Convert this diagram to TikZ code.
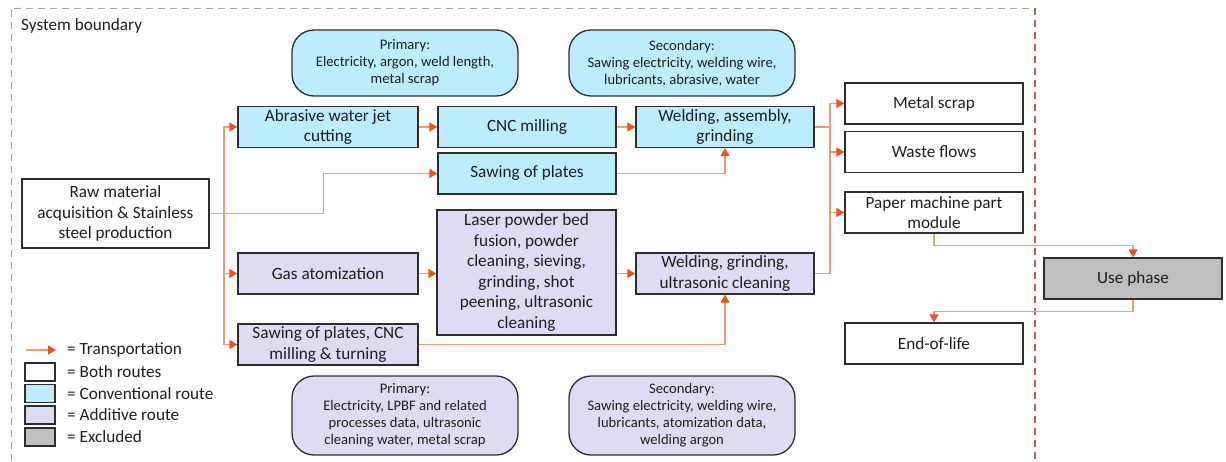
\documentclass[tikz,border=0pt]{standalone}
\usepackage{fontspec}
\setmainfont{Carlito}
\usetikzlibrary{arrows.meta,calc}
\definecolor{conv}{RGB}{189,236,253}
\definecolor{addv}{RGB}{222,220,244}
\definecolor{excl}{RGB}{191,191,191}
\definecolor{bordc}{RGB}{45,45,45}
\definecolor{linec}{RGB}{248,150,120}
\definecolor{tipc}{RGB}{240,80,30}
\definecolor{bndc}{RGB}{165,105,95}
\definecolor{txtc}{RGB}{30,30,30}
\tikzset{
  box/.style={draw=bordc,line width=1.3pt,inner sep=1pt,align=center,text=txtc,
    font=\fontsize{17.2}{20.5}\selectfont},
  cbox/.style={box,fill=conv},
  abox/.style={box,fill=addv},
  note/.style={draw=bordc,line width=1.3pt,rounded corners=22pt,inner sep=1pt,align=center,text=txtc,
    font=\fontsize{14.6}{17}\selectfont},
  flow/.style={draw=linec,line width=1.3pt,-{Triangle[length=8pt,width=9pt,color=tipc]}},
  plain/.style={draw=linec,line width=1.3pt},
  legsq/.style={draw=bordc,line width=1.3pt,minimum width=30pt,minimum height=18pt,inner sep=0pt},
  legtxt/.style={anchor=west,text=txtc,font=\fontsize{17.2}{20.5}\selectfont,inner sep=0pt},
}
\begin{document}
\begin{tikzpicture}[x=1pt,y=-1pt]
\useasboundingbox (0,0) rectangle (1226,461);
% system boundary
\draw[bndc!70,line width=1pt,dash pattern=on 7pt off 5pt] (11,461) -- (11,8) -- (1035,8);
\draw[bndc,line width=2pt,dash pattern=on 7pt off 5pt] (1035,8) -- (1035,461);
\node[legtxt] (sb) at (21,26) {System boundary};

% boxes
\node[box,minimum width=187pt,minimum height=69pt] (raw) at (115.5,213.5) {Raw material\\acquisition \& Stainless\\steel production};
\node[cbox,minimum width=180pt,minimum height=41pt] (abr) at (328,127) {Abrasive water jet\\cutting};
\node[cbox,minimum width=178pt,minimum height=41pt] (cnc) at (527,127) {CNC milling};
\node[cbox,minimum width=178pt,minimum height=41pt] (weld1) at (725,127) {Welding, assembly,\\grinding};
\node[cbox,minimum width=178pt,minimum height=41pt] (sawp) at (527,173.5) {Sawing of plates};
\node[abox,minimum width=179pt,minimum height=125pt] (lpbf) at (526.5,272.5) {Laser powder bed\\fusion, powder\\cleaning, sieving,\\grinding, shot\\peening, ultrasonic\\cleaning};
\node[abox,minimum width=180pt,minimum height=41pt] (gas) at (328,273.5) {Gas atomization};
\node[abox,minimum width=180pt,minimum height=41pt] (sawc) at (328,344.5) {Sawing of plates, CNC\\milling \& turning};
\node[abox,minimum width=178pt,minimum height=41pt] (weld2) at (725,273.5) {Welding, grinding,\\ultrasonic cleaning};
\node[box,minimum width=178pt,minimum height=41pt] (metal) at (934,103.5) {Metal scrap};
\node[box,minimum width=178pt,minimum height=41pt] (waste) at (934,152) {Waste flows};
\node[box,minimum width=178pt,minimum height=41pt] (paper) at (934,212.5) {Paper machine part\\module};
\node[box,fill=excl,minimum width=178pt,minimum height=41pt] (use) at (1133,278.5) {Use phase};
\node[box,minimum width=178pt,minimum height=41pt] (eol) at (934,343.5) {End-of-life};

% notes
\node[note,fill=conv,minimum width=226pt,minimum height=66pt] (p1) at (405,63) {Primary:\\Electricity, argon, weld length,\\metal scrap};
\node[note,fill=conv,minimum width=226pt,minimum height=66pt] (s1) at (682,63) {Secondary:\\Sawing electricity, welding wire,\\lubricants, abrasive, water};
\node[note,fill=addv,minimum width=226pt,minimum height=79pt] (p2) at (405,415.5) {Primary:\\Electricity, LPBF and related\\processes data, ultrasonic\\cleaning water, metal scrap};
\node[note,fill=addv,minimum width=226pt,minimum height=79pt] (s2) at (682,415.5) {Secondary:\\Sawing electricity, welding wire,\\lubricants, atomization data,\\welding argon};

% connectors
\coordinate (t1) at (224,0);
\coordinate (t2) at (830,0);
\draw[flow] (raw.east) -| (t1|-abr.west) -- (abr.west);
\draw[flow] (t1|-raw.east) |- (gas.west);
\draw[flow] (t1|-gas.west) |- (sawc.west);
\draw[flow] (raw.east) -- ++(114,0) |- (sawp.west);
\draw[flow] (abr.east) -- (cnc.west);
\draw[flow] (cnc.east) -- (weld1.west);
\draw[flow] (sawp.east) -| (weld1.south);
\draw[flow] (gas.east) -- (lpbf.west|-gas.east);
\draw[flow] (lpbf.east|-weld2.west) -- (weld2.west);
\draw[flow] (sawc.east) -| (weld2.south);
\draw[flow] (weld1.east) -| (t2|-metal.west) -- (metal.west);
\draw[flow] (weld2.east) -| (t2|-paper.west) -- (paper.west);
\draw[plain] (t2|-weld1.east) -- (t2|-paper.west);
\draw[flow] (t2|-waste.west) -- (waste.west);
\draw[flow] (paper.south) -- ++(0,12) -| (use.north);
\draw[flow] (use.south) -- ++(0,12) -| (eol.north);

% legend
\coordinate (la) at (26,350);
\coordinate (lb) at (56,350);
\draw[flow] (la) -- (lb);
\node[legtxt] (l1) at (67,350) {= Transportation};
\node[legsq,fill=white] (q2) at (40,372) {};
\node[legtxt] (l2) at (67,372) {= Both routes};
\node[legsq,fill=conv] (q3) at (40,393.5) {};
\node[legtxt] (l3) at (67,393.5) {= Conventional route};
\node[legsq,fill=addv] (q4) at (40,415) {};
\node[legtxt] (l4) at (67,415) {= Additive route};
\node[legsq,fill=excl] (q5) at (40,437) {};
\node[legtxt] (l5) at (67,437) {= Excluded};
\end{tikzpicture}
\end{document}
